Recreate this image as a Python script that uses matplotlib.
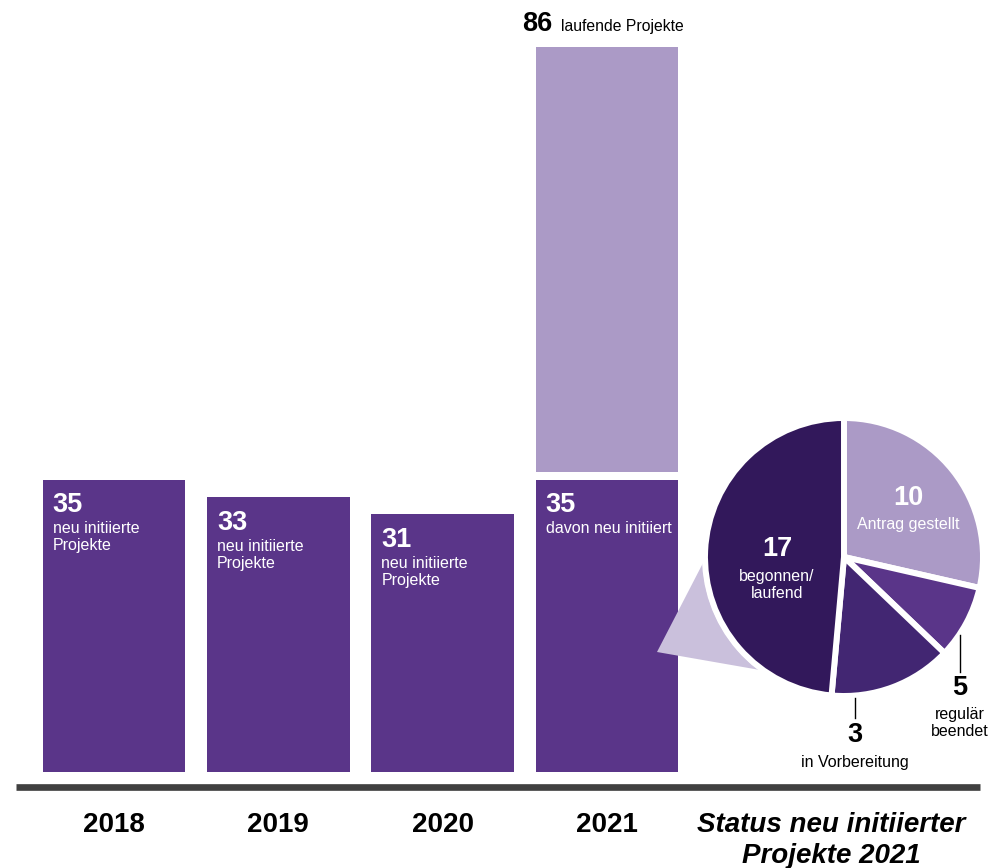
import matplotlib
matplotlib.use("Agg")
import matplotlib.pyplot as plt
from matplotlib.patches import Polygon, Circle

plt.rcParams['font.family'] = ['Liberation Sans', 'DejaVu Sans']

# ---------------- data ----------------
years = ["2018", "2019", "2020", "2021"]
new_projects = [35, 33, 31, 35]
running_total_2021 = 86
bar_notes = ["neu initiierte\nProjekte", "neu initiierte\nProjekte",
             "neu initiierte\nProjekte", "davon neu initiiert"]
running_label = "laufende Projekte"

status_labels = ["Antrag gestellt", "in Vorbereitung", "regulär beendet", "begonnen/\nlaufend"]
status_values = [10, 3, 5, 17]
status_title = ["Status neu initiierter", "Projekte 2021"]

# ---------------- style ----------------
PURPLE = "#5A3589"
LIGHT = "#AB9AC6"
DARKEST = "#32185B"
DARK = "#422672"
TRI = "#CAC0DC"
AXIS = "#404040"
pie_colors = [LIGHT, PURPLE, DARK, DARKEST]

W, H, DPI = 999, 868, 100
fig = plt.figure(figsize=(W / DPI, H / DPI), dpi=DPI)

PX_PER_UNIT = 8.343
BAR_PITCH = 164.3
X0 = 114.0
BASE = 772.3

ax = fig.add_axes([0, 0, 1, 1])
ax.set_xlim(-X0 / BAR_PITCH, (W - X0) / BAR_PITCH)
ax.set_ylim(-(H - BASE) / PX_PER_UNIT, BASE / PX_PER_UNIT)
ax.axis('off')

width = 0.868
xs = list(range(len(years)))
ax.bar(xs, new_projects, width=width, color=PURPLE, zorder=2)
gap = 8 / PX_PER_UNIT
ax.bar(xs[-1], running_total_2021 - new_projects[-1], bottom=new_projects[-1] + gap,
       width=width, color=LIGHT, zorder=2)

# axis line
ax.axhline(-14.4 / PX_PER_UNIT, xmin=16 / W, xmax=980 / W, color=AXIS, lw=4.8,
           solid_capstyle='butt', zorder=3)

offs_num = [32, 33, 33, 32]
for i, (v, note) in enumerate(zip(new_projects, bar_notes)):
    left = xs[i] - width / 2
    ax.annotate(str(v), xy=(left, v), xytext=(10, -offs_num[i]), textcoords='offset pixels',
                ha='left', va='baseline', color='white', fontsize=19.5, fontweight='bold', zorder=5)
    for j, line in enumerate(note.split("\n")):
        ax.annotate(line, xy=(left, v), xytext=(10, -(offs_num[i] + 21 + 17 * j)),
                    textcoords='offset pixels', ha='left', va='baseline', color='white',
                    fontsize=11.5, zorder=5)
    ax.annotate(years[i], xy=(xs[i], 0), xytext=(0, -59.7), textcoords='offset pixels',
                ha='center', va='baseline', color='black', fontsize=20, fontweight='bold')

# 86 label
top_total = running_total_2021 + gap
ax.annotate(str(running_total_2021), xy=(xs[-1], top_total), xytext=(-54.5, 16),
            textcoords='offset pixels', ha='right', va='baseline', fontsize=19.5,
            fontweight='bold', color='black')
ax.annotate(running_label, xy=(xs[-1], top_total), xytext=(-45.5, 16),
            textcoords='offset pixels', ha='left', va='baseline', fontsize=11.3, color='black')

# status title
fig.text(831 / W, 1 - 832 / H, status_title[0], ha='center', va='baseline', fontsize=20,
         fontweight='bold', fontstyle='italic')
fig.text(831 / W, 1 - 863 / H, status_title[1], ha='center', va='baseline', fontsize=20,
         fontweight='bold', fontstyle='italic')

# ---------------- pie ----------------
CX, CY, R = 844, 557, 139
LIM = 1.1
pax = fig.add_axes([(CX - R * LIM) / W, 1 - (CY + R * LIM) / H, 2 * R * LIM / W, 2 * R * LIM / H])
pax.pie(status_values, colors=pie_colors, startangle=90, counterclock=False, radius=1,
        wedgeprops=dict(edgecolor='white', linewidth=4.3, zorder=3))
pax.set_xlim(-LIM, LIM)
pax.set_ylim(-LIM, LIM)
pax.set_aspect('equal')
pax.axis('off')
pax.patch.set_alpha(0)

def P(dx, dy):
    return (dx / R, dy / R)

tri = Polygon([P(-187, -95), P(-141, -6), P(-84, -113)], closed=True, facecolor=TRI,
              edgecolor='none', zorder=1, clip_on=False)
pax.add_patch(tri)
pax.add_patch(Circle((0, 0), 1 + 2.5 / R, facecolor='white', edgecolor='none', zorder=2, clip_on=False))

# inside labels: (x offset, number y, first text line y)
inside = {0: (64, 59, 32), 3: (-67, 8, -20)}
for idx, (dx, ny, ly) in inside.items():
    pax.text(*P(dx, ny), str(status_values[idx]), ha='center', va='center', color='white',
             fontsize=19.5, fontweight='bold', zorder=5)
    for j, line in enumerate(status_labels[idx].split("\n")):
        pax.text(*P(dx, ly - 16.5 * j), line, ha='center', va='center', color='white',
                 fontsize=11.5, zorder=5)

# outside labels: (x offset, line top, line bottom, number y, first text y)
outside = {1: (11, -141, -161, -178, -205), 2: (116, -78, -115, -131, -158)}
for idx, (dx, l1, l2, ny, ty) in outside.items():
    pax.plot([dx / R, dx / R], [l1 / R, l2 / R], color='black', lw=1.0, clip_on=False, zorder=5)
    pax.text(*P(dx, ny), str(status_values[idx]), ha='center', va='center', color='black',
             fontsize=19.5, fontweight='bold', zorder=5, clip_on=False)
    words = status_labels[idx].split(" ") if idx == 2 else [status_labels[idx]]
    for j, line in enumerate(words):
        pax.text(*P(dx, ty - 17 * j), line, ha='center', va='center', color='black',
                 fontsize=11.5, zorder=5, clip_on=False)

fig.savefig("out.png", dpi=DPI)
